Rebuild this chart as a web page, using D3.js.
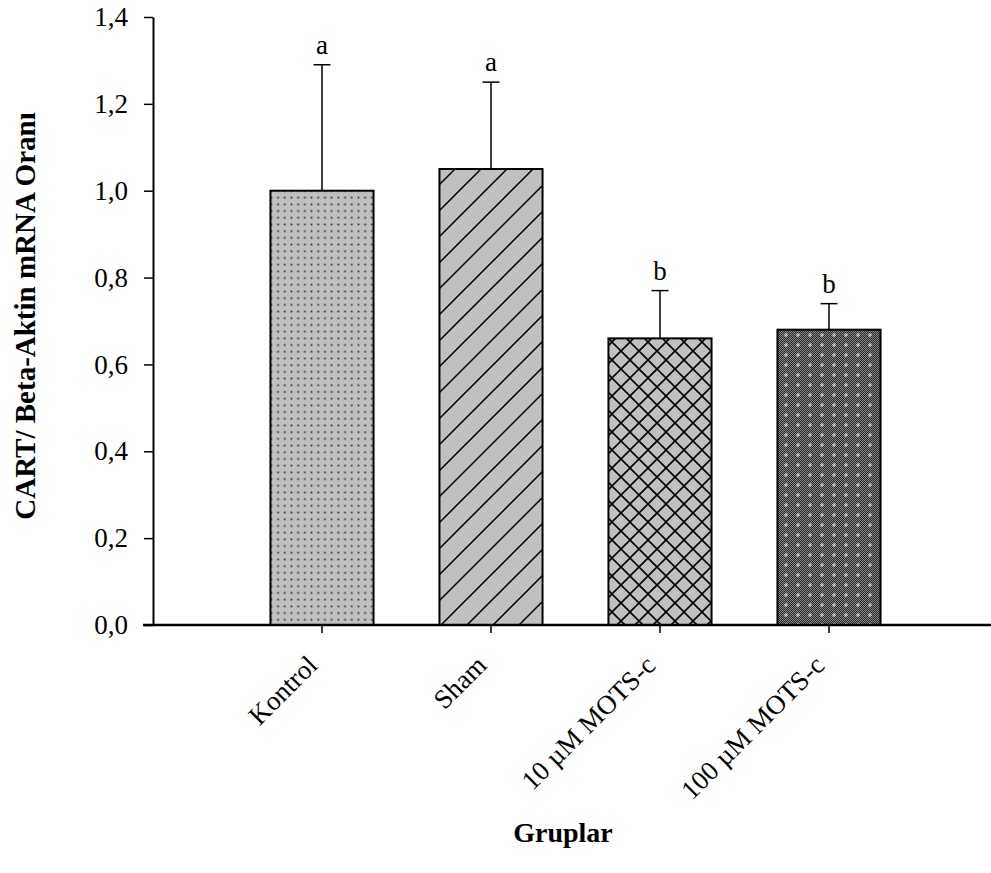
<!DOCTYPE html>
<html>
<head>
<meta charset="utf-8">
<script src="https://cdn.jsdelivr.net/npm/d3@7"></script>
<style>
  body { margin: 0; background: #fff; }
  text { font-family: "Times New Roman", "Liberation Serif", serif; fill: #000; }
</style>
</head>
<body>
<div id="chart"></div>
<script>
// data
var groups = ["Kontrol", "Sham", "10 µM MOTS-c", "100 µM MOTS-c"];
var means = [1.00, 1.05, 0.66, 0.68];
var errors = [0.29, 0.20, 0.11, 0.06];
var sigLetters = ["a", "a", "b", "b"];
var yTicks = [0, 0.2, 0.4, 0.6, 0.8, 1.0, 1.2, 1.4];
var patterns = ["dots", "hatch", "cross", "dense"];

var w = 991;
var h = 873;
var fontStack = "'Times New Roman', 'Liberation Serif', serif";

var svg = d3.select("#chart")
            .append("svg")
              .attr("width", w)
              .attr("height", h);

// fill patterns
var defs = svg.append("defs");

var p1 = defs.append("pattern").attr("id", "dots")
  .attr("patternUnits", "userSpaceOnUse").attr("width", 6.7).attr("height", 6.7);
p1.append("rect").attr("width", 6.7).attr("height", 6.7).attr("fill", "#c0c0c0");
p1.append("rect").attr("x", 2.5).attr("y", 2.5).attr("width", 1.7).attr("height", 1.7).attr("fill", "#2a2a2a");

var p2 = defs.append("pattern").attr("id", "hatch")
  .attr("patternUnits", "userSpaceOnUse").attr("width", 26).attr("height", 26);
p2.append("rect").attr("width", 26).attr("height", 26).attr("fill", "#c0c0c0");
p2.append("path").attr("d", "M0,26 L26,0 M-2,2 L2,-2 M24,28 L28,24")
  .attr("stroke", "#000").attr("stroke-width", 1.5);

var p3 = defs.append("pattern").attr("id", "cross")
  .attr("patternUnits", "userSpaceOnUse").attr("width", 18).attr("height", 18);
p3.append("rect").attr("width", 18).attr("height", 18).attr("fill", "#c0c0c0");
p3.append("path").attr("d", "M0,0 L18,18 M0,18 L18,0")
  .attr("stroke", "#000").attr("stroke-width", 1.6);

var chk = defs.append("pattern").attr("id", "checker")
  .attr("patternUnits", "userSpaceOnUse").attr("width", 2).attr("height", 2);
chk.append("rect").attr("width", 2).attr("height", 2).attr("fill", "#262626");
chk.append("rect").attr("width", 1).attr("height", 1).attr("fill", "#8a8a8a");
chk.append("rect").attr("x", 1).attr("y", 1).attr("width", 1).attr("height", 1).attr("fill", "#8a8a8a");

var p4 = defs.append("pattern").attr("id", "dense")
  .attr("patternUnits", "userSpaceOnUse").attr("width", 12).attr("height", 10);
p4.append("rect").attr("width", 12).attr("height", 10).attr("fill", "url(#checker)");
p4.append("path").attr("d", "M6,3 L6,7 M4,5 L8,5")
  .attr("stroke", "#d0d0d0").attr("stroke-width", 1.2);

// scales
var yScale = d3.scaleLinear()
               .domain([0, 1.4])
               .range([625, 17]);

var xScale = d3.scaleBand()
               .domain(groups)
               .range([237.5, 913.5])
               .paddingInner(0.39)
               .paddingOuter(0.195);

var fmt = function(d) { return d3.format(".1f")(d).replace(".", ","); };

// bars
svg.selectAll("rect.bar")
   .data(means)
   .enter()
   .append("rect")
   .attr("class", "bar")
   .attr("x", function(d, i) { return xScale(groups[i]); })
   .attr("y", function(d) { return yScale(d); })
   .attr("width", xScale.bandwidth())
   .attr("height", function(d) { return yScale(0) - yScale(d); })
   .attr("fill", function(d, i) { return "url(#" + patterns[i] + ")"; })
   .attr("stroke", "#000")
   .attr("stroke-width", 2);

// error bars
var cx = function(i) { return xScale(groups[i]) + xScale.bandwidth() / 2; };
var eb = svg.append("g").attr("stroke", "#000").attr("stroke-width", 1.5);
means.forEach(function(m, i) {
  eb.append("line")
    .attr("x1", cx(i)).attr("x2", cx(i))
    .attr("y1", yScale(m)).attr("y2", yScale(m + errors[i]));
  eb.append("line")
    .attr("x1", cx(i) - 8.5).attr("x2", cx(i) + 8.5)
    .attr("y1", yScale(m + errors[i])).attr("y2", yScale(m + errors[i]));
});

// letters
svg.selectAll("text.sig")
   .data(sigLetters)
   .enter()
   .append("text")
   .attr("class", "sig")
   .attr("x", function(d, i) { return cx(i); })
   .attr("y", function(d, i) { return yScale(means[i] + errors[i]) - 11; })
   .attr("text-anchor", "middle")
   .style("font-size", "27px")
   .text(function(d) { return d; });

// y axis
var y_axis = d3.axisLeft(yScale)
               .tickValues(yTicks)
               .tickFormat(fmt)
               .tickSize(9)
               .tickSizeOuter(0)
               .tickPadding(16);

var gy = svg.append("g")
   .attr("transform", "translate(153,0)")
   .call(y_axis);
gy.select(".domain").attr("stroke-width", 2);
gy.selectAll(".tick line").attr("stroke-width", 1.5);
gy.selectAll(".tick text")
  .style("font-size", "27px")
  .style("font-family", fontStack);

// x axis
var x_axis = d3.axisBottom(xScale)
               .tickSize(8)
               .tickSizeOuter(0);

var gx = svg.append("g")
   .attr("transform", "translate(0,625)")
   .call(x_axis);
gx.select(".domain").remove();
gx.append("line")
  .attr("x1", 143).attr("x2", 991)
  .attr("stroke", "#000").attr("stroke-width", 2.5);
gx.selectAll(".tick line").attr("stroke-width", 1.5);
gx.selectAll(".tick text")
  .style("font-size", "27px")
  .style("font-family", fontStack)
  .attr("text-anchor", "end")
  .attr("y", 0)
  .attr("dy", 0)
  .attr("transform", "translate(-3,42) rotate(-45)");

// axis titles
svg.append("text")
   .attr("x", 563)
   .attr("y", 842)
   .attr("text-anchor", "middle")
   .style("font-size", "28px")
   .style("font-weight", "bold")
   .text("Gruplar");

svg.append("text")
   .attr("transform", "translate(35,316) rotate(-90)")
   .attr("text-anchor", "middle")
   .style("font-size", "29px")
   .style("font-weight", "bold")
   .text("CART/ Beta-Aktin mRNA Oranı");
</script>
</body>
</html>
